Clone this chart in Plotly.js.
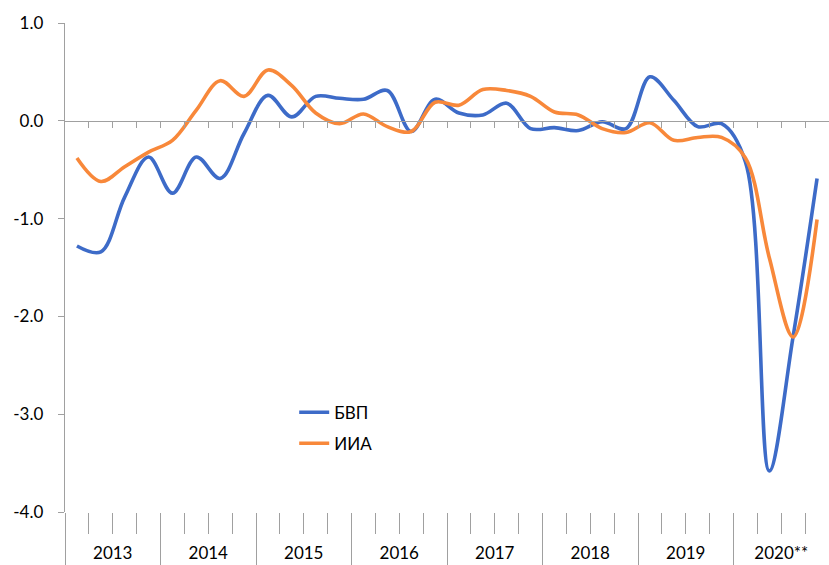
<!DOCTYPE html>
<html>
<head>
<meta charset="utf-8">
<script src="https://cdn.plot.ly/plotly-3.0.1.min.js"></script>
<style>html,body{margin:0;padding:0;background:#fff}#chart{width:829px;height:565px}</style>
</head>
<body>
<div id="chart"></div>
<script>
const years = ["2013", "2014", "2015", "2016", "2017", "2018", "2019", "2020**"];
const quarters = ["Q1", "Q2", "Q3", "Q4"];
const seriesNames = ["БВП", "ИИА"];
const gdp = [-1.28, -1.34, -0.78, -0.37, -0.74, -0.37, -0.59, -0.13,
             0.26, 0.04, 0.25, 0.23, 0.22, 0.31, -0.11, 0.22,
             0.08, 0.06, 0.18, -0.08, -0.07, -0.10, -0.01, -0.08,
             0.45, 0.21, -0.06, -0.03, -0.42, -3.58, -2.20, -0.59];
const iia = [-0.38, -0.62, -0.47, -0.32, -0.20, 0.11, 0.41, 0.25,
             0.52, 0.36, 0.08, -0.03, 0.07, -0.06, -0.11, 0.19,
             0.16, 0.32, 0.31, 0.25, 0.09, 0.06, -0.08, -0.12,
             -0.02, -0.20, -0.17, -0.17, -0.38, -1.40, -2.21, -1.01];
const yTicks = [-4, -3, -2, -1, 0, 1];
const colors = ["#3D6BC8", "#F8883A"];

const periods = [];
years.forEach(y => quarters.forEach(q => periods.push(y + " " + q)));
const xIdx = periods.map((p, i) => i);
const nq = quarters.length;
const n = periods.length;

const yearCenters = years.map((y, k) => k * nq + (nq - 1) / 2);
const yearBounds = [];
for (let k = 0; k <= years.length; k++) yearBounds.push(k * nq - 0.5);
const allBounds = [];
for (let i = 0; i <= n; i++) allBounds.push(i - 0.5);
const innerBounds = allBounds.slice(1, -1);

const gray = "#A0A0A0";
const font = {family: "Lato, 'Liberation Sans', sans-serif", size: 17, color: "#000"};
const xr = [-0.5, n - 0.5];

const traces = [gdp, iia].map((vals, s) => ({
  type: "scatter", mode: "lines", name: seriesNames[s],
  x: xIdx, y: vals, legendgroup: "g" + s,
  line: {color: colors[s], width: 3.6, shape: "spline", smoothing: 1},
  hoverinfo: "skip"
}));
// empty helper traces so the tick-only overlay axes get drawn
["x2", "x3", "x4"].forEach(ax => traces.unshift({
  type: "scatter", mode: "lines", x: [null], y: [null], xaxis: ax, yaxis: "y",
  showlegend: false, hoverinfo: "skip"
}));

const blankAxis = {
  type: "linear", range: xr, showgrid: false, zeroline: false, showticklabels: false,
  tickmode: "array", ticks: "outside", tickcolor: gray, tickwidth: 1,
  overlaying: "x", automargin: false, fixedrange: true
};

const layout = {
  width: 829, height: 565,
  margin: {l: 65, r: 0, t: 23, b: 53},
  paper_bgcolor: "#fff", plot_bgcolor: "#fff",
  font: font,
  showlegend: true,
  legend: {x: 0.30, y: 0.240, xanchor: "left", yanchor: "top",
           font: font, bgcolor: "rgba(0,0,0,0)", borderwidth: 0,
           traceorder: "grouped", tracegroupgap: 6},
  xaxis: {
    type: "linear", range: xr, tickmode: "array", tickvals: yearCenters, ticktext: years,
    ticks: "", showline: false, showgrid: false, zeroline: false,
    ticklabelstandoff: 29, tickfont: font, automargin: false, fixedrange: true
  },
  xaxis2: Object.assign({}, blankAxis, {anchor: "y", side: "bottom",
    tickvals: yearBounds, ticklen: 53, showline: false}),
  xaxis4: Object.assign({}, blankAxis, {anchor: "y", side: "bottom",
    tickvals: allBounds, ticklen: 21, showline: false}),
  xaxis3: Object.assign({}, blankAxis, {anchor: "free", position: 0.8, side: "bottom",
    tickvals: innerBounds, ticklen: 6, showline: true, linecolor: gray, linewidth: 1.3}),
  yaxis: {
    range: [-4, 1], tickmode: "array", tickvals: yTicks,
    ticktext: yTicks.map(v => v.toFixed(1)),
    ticks: "outside", ticklen: 6, tickcolor: gray, showline: true, linecolor: gray,
    linewidth: 1.3, showgrid: false, zeroline: false, tickfont: font,
    ticklabelstandoff: 11, automargin: false, fixedrange: true
  }
};

Plotly.newPlot("chart", traces, layout, {staticPlot: true, displayModeBar: false});
</script>
</body>
</html>
